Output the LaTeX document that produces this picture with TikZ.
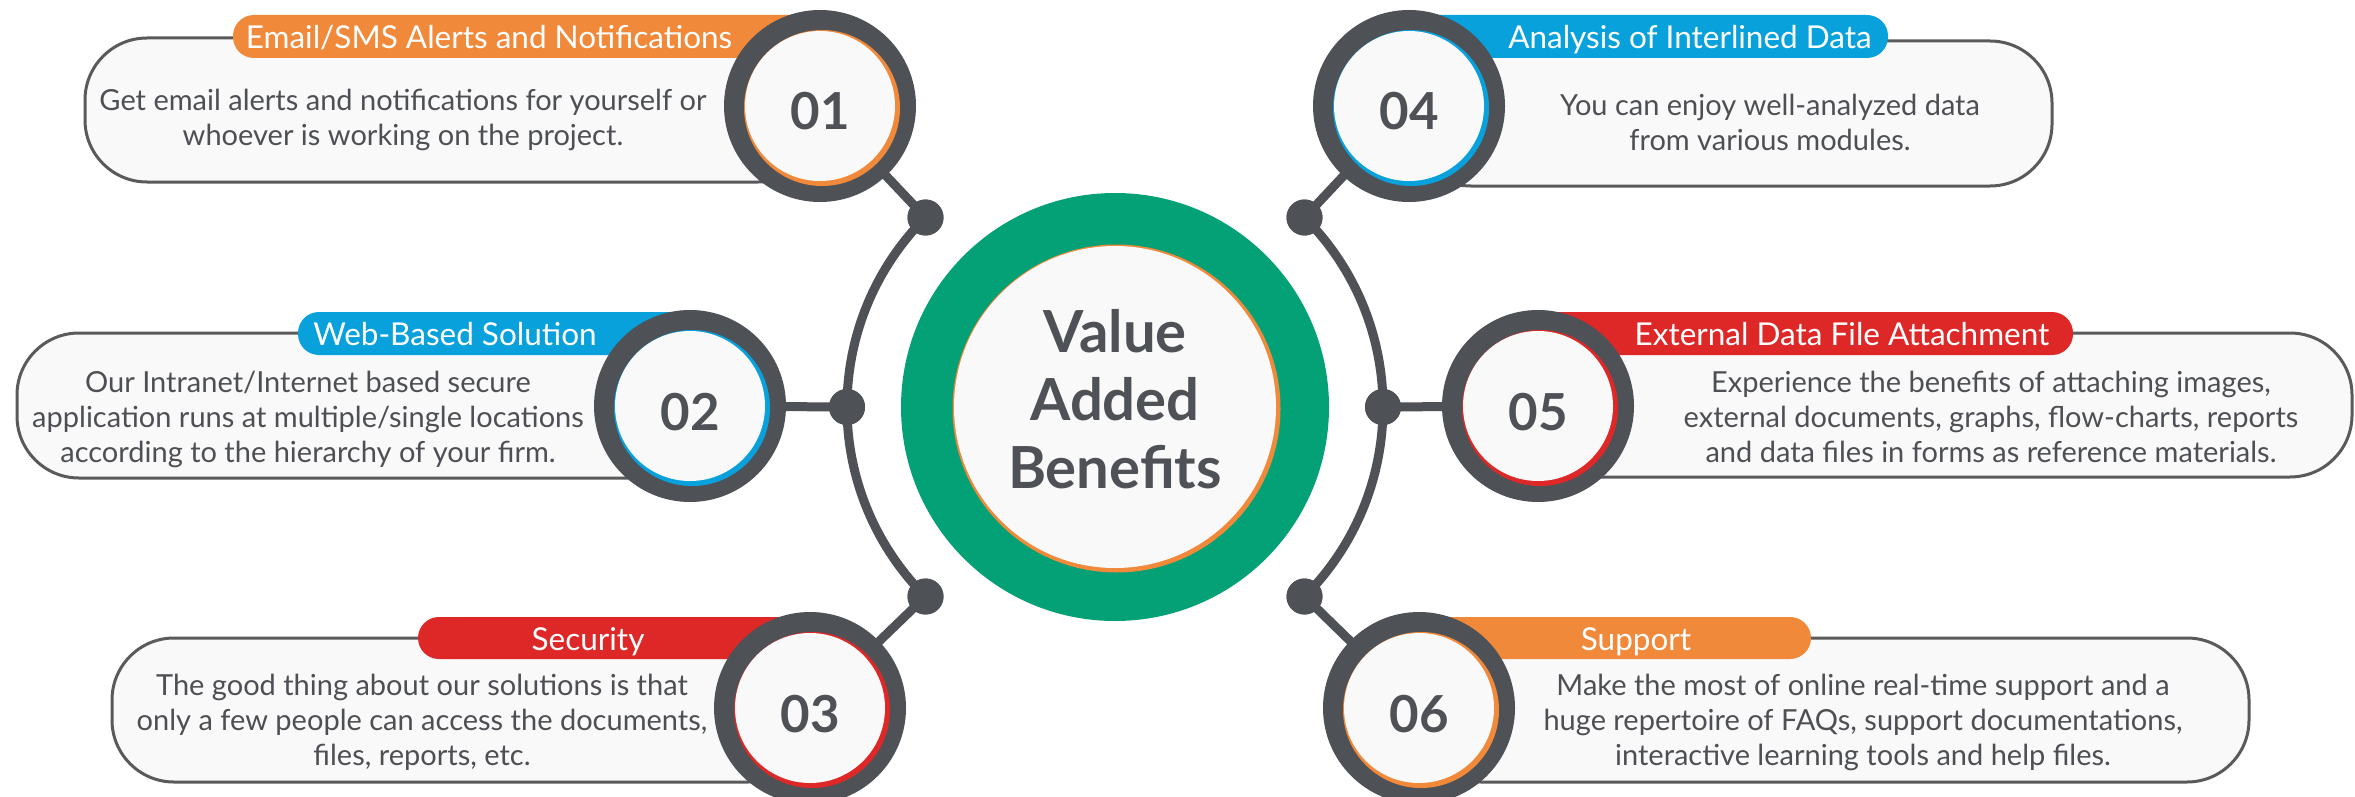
\documentclass[tikz,border=0pt]{standalone}
\usepackage{fontspec}
\setmainfont{Lato}
\definecolor{ringgray}{RGB}{78,81,86}
\definecolor{vgreen}{RGB}{4,161,118}
\definecolor{vorange}{RGB}{241,137,59}
\definecolor{vblue}{RGB}{9,161,220}
\definecolor{vred}{RGB}{221,40,39}
\definecolor{boxfill}{RGB}{248,249,248}
\definecolor{boxborder}{RGB}{90,90,90}
\definecolor{txtgray}{RGB}{77,79,84}
\definecolor{innerwhite}{RGB}{248,249,248}
\tikzset{
  boxshape/.style={draw=boxborder, line width=3pt, fill=boxfill, rounded corners=62pt},
  tabshape/.style={fill=#1, rounded corners=21pt},
  tabtext/.style={font=\fontsize{31.5}{36}\selectfont, text=white, anchor=base, inner sep=0pt},
  bodytext/.style={font=\fontsize{29}{35}\selectfont, text=txtgray, align=center, inner sep=0pt},
  numtext/.style={font=\bfseries\fontsize{51}{51}\selectfont, text=ringgray, anchor=base, inner sep=0pt},
  dotnode/.style={circle, fill=ringgray, minimum size=36pt, inner sep=0pt},
  arcline/.style={draw=ringgray, line width=9pt},
  conn/.style={draw=ringgray, line width=9pt},
  numring/.style={circle, fill=ringgray, minimum size=192pt, inner sep=0pt,
    path picture={
      \fill[#1] ([shift={(2pt,-2pt)}]path picture bounding box.center) circle[radius=78pt];
      \fill[innerwhite] (path picture bounding box.center) circle[radius=75pt];
    }},
}
\begin{document}
\begin{tikzpicture}[x=1pt,y=-1pt]
\useasboundingbox[fill=white] (0,0) rectangle (2355,797);
% centres
\coordinate (C) at (1115,407);
\coordinate (p1) at (820,106);
\coordinate (p2) at (690,406);
\coordinate (p3) at (810,708);
\coordinate (p4) at (1409,106);
\coordinate (p5) at (1538,406);
\coordinate (p6) at (1419,708);
% boxes
\path[boxshape] (85,38) rectangle (820,182);
\path[boxshape] (17,333) rectangle (690,478);
\path[boxshape] (112,638) rectangle (810,782);
\path[boxshape] (1409,41) rectangle (2052,186);
\path[boxshape] (1538,333) rectangle (2352,477);
\path[boxshape] (1419,638) rectangle (2249,782);
% tabs
\path[tabshape=vorange] (233,15) rectangle (820,58);
\path[tabshape=vblue] (298,312) rectangle (690,355);
\path[tabshape=vred] (418,617) rectangle (810,659);
\path[tabshape=vblue] (1409,15) rectangle (1888,58);
\path[tabshape=vred] (1538,312) rectangle (2073,355);
\path[tabshape=vorange] (1419,617) rectangle (1811,659);
% tab labels
\node[tabtext] (l1) at (489,48.5) {Email/SMS Alerts and Notifications};
\node[tabtext] (l2) at (455,345.5) {Web-Based Solution};
\node[tabtext] (l3) at (588,650) {Security};
\node[tabtext] (l4) at (1690,48.5) {Analysis of Interlined Data};
\node[tabtext] (l5) at (1842,345.5) {External Data File Attachment};
\node[tabtext] (l6) at (1636,650) {Support};
% body texts
\node[bodytext] (t1) at (403,120) {Get email alerts and notifications for yourself or\\whoever is working on the project.};
\node[bodytext] (t2) at (308,419) {Our Intranet/Internet based secure\\application runs at multiple/single locations\\according to the hierarchy of your firm.};
\node[bodytext] (t3) at (422,722) {The good thing about our solutions is that\\only a few people can access the documents,\\files, reports, etc.};
\node[bodytext] (t4) at (1770,122) {You can enjoy well-analyzed data\\from various modules.};
\node[bodytext] (t5) at (1991,417) {Experience the benefits of attaching images,\\external documents, graphs, flow-charts, reports\\and data files in forms as reference materials.};
\node[bodytext] (t6) at (1863,722) {Make the most of online real-time support and a\\huge repertoire of FAQs, support documentations,\\interactive learning tools and help files.};
% dots
\node[dotnode] (d1) at (925.5,217.5) {};
\node[dotnode] (d2) at (847,407) {};
\node[dotnode] (d3) at (925.5,596.5) {};
\node[dotnode] (d4) at (1304.5,217.5) {};
\node[dotnode] (d5) at (1383,407) {};
\node[dotnode] (d6) at (1304.5,596.5) {};
% arcs
\draw[arcline] (d1.center) arc[start angle=135, end angle=225, radius=268pt];
\draw[arcline] (d6.center) arc[start angle=-45, end angle=45, radius=268pt];
% connectors
\draw[conn] (d1.center) -- (p1);
\draw[conn] (d2.center) -- (p2);
\draw[conn] (d3.center) -- (p3);
\draw[conn] (d4.center) -- (p4);
\draw[conn] (d5.center) -- (p5);
\draw[conn] (d6.center) -- (p6);
% redraw dots on top
\foreach \d in {d1,d2,d3,d4,d5,d6} \fill[ringgray] (\d) circle[radius=18pt];
% number circles
\node[numring=vorange] (c1) at (p1) {};
\node[numring=vblue] (c2) at (p2) {};
\node[numring=vred] (c3) at (p3) {};
\node[numring=vblue] (c4) at (p4) {};
\node[numring=vred] (c5) at (p5) {};
\node[numring=vorange] (c6) at (p6) {};
\node[numtext] (n1) at (820,130) {01};
\node[numtext] (n2) at (690,430) {02};
\node[numtext] (n3) at (810,732) {03};
\node[numtext] (n4) at (1409,130) {04};
\node[numtext] (n5) at (1538,430) {05};
\node[numtext] (n6) at (1419,732) {06};
% centre
\fill[vgreen] (C) circle[radius=214pt];
\fill[vorange] ([shift={(1.5pt,-1.5pt)}]C) circle[radius=164pt];
\fill[innerwhite] (C) circle[radius=161pt];
\node[font=\bfseries\fontsize{58}{68}\selectfont, text=ringgray, align=center, inner sep=0pt] (ctr) at (1115,399) {Value\\Added\\Benefits};
\end{tikzpicture}
\end{document}
